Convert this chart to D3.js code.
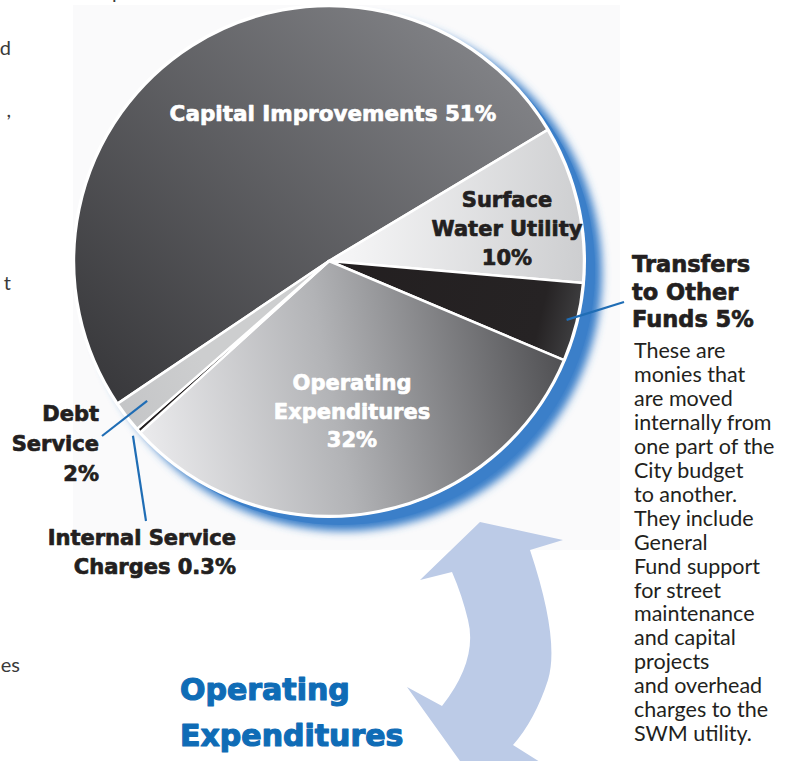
<!DOCTYPE html>
<html>
<head>
<meta charset="utf-8">
<script src="https://cdn.jsdelivr.net/npm/d3@7"></script>
<style>
  html, body { margin: 0; padding: 0; background: #ffffff; }
  svg { display: block; }
  .heavy { font-family: "DejaVu Sans", sans-serif; font-weight: bold; }
  .book { font-family: Lato, "Open Sans", sans-serif; }
</style>
</head>
<body>
<div id="chart"></div>
<script>
// slice data, clockwise from the top-left edge of Capital Improvements
var categories = ["Capital Improvements", "Surface Water Utility", "Transfers to Other Funds",
                  "Operating Expenditures", "Internal Service Charges", "Debt Service"];
var shares = [51, 10, 5, 32, 0.3, 2];
var shareLabels = ["51%", "10%", "5%", "32%", "0.3%", "2%"];
var labelLines = [
  ["Capital Improvements 51%"],
  ["Surface", "Water Utility", "10%"],
  ["Transfers", "to Other", "Funds 5%"],
  ["Operating", "Expenditures", "32%"],
  ["Internal Service", "Charges 0.3%"],
  ["Debt", "Service", "2%"]
];
var noteLines = ["These are", "monies that", "are moved", "internally from", "one part of the",
  "City budget", "to another.", "They include", "General", "Fund support", "for street",
  "maintenance", "and capital", "projects", "and overhead", "charges to the", "SWM utility."];
var edgeFragments = ["d", ",", "t", "es"];

const width = 794, height = 761;
const cx = 329, cy = 261, radius = 255;

var svg = d3.select("#chart").append("svg")
  .attr("width", width).attr("height", height)
  .attr("viewBox", "0 0 " + width + " " + height);

var defs = svg.append("defs");

// gradient stops per slice, in pie-local coordinates
var gradients = [
  {p: [150, -230, -210, 150], stops: [["0%", "#828387"], ["100%", "#38383b"]]},
  {p: [20, -40, 255, -20],   stops: [["0%", "#f5f5f6"], ["100%", "#cdced0"]]},
  {p: [0, 0, 250, 60],       stops: [["0%", "#231f20"], ["85%", "#262324"], ["100%", "#3f3f41"]]},
  {p: [-190, 160, 235, 80],  stops: [["0%", "#ebebed"], ["45%", "#b2b3b6"], ["100%", "#4e4e51"]]},
  {p: [0, 0, 1, 1],          stops: [["0%", "#231f20"], ["100%", "#231f20"]]},
  {p: [-120, 120, -230, 160], stops: [["0%", "#cdcecf"], ["100%", "#c2c3c5"]]}
];
gradients.forEach(function(g, i) {
  var lg = defs.append("linearGradient")
    .attr("id", "slice" + i)
    .attr("gradientUnits", "userSpaceOnUse")
    .attr("x1", g.p[0]).attr("y1", g.p[1]).attr("x2", g.p[2]).attr("y2", g.p[3]);
  g.stops.forEach(function(s) {
    lg.append("stop").attr("offset", s[0]).attr("stop-color", s[1]);
  });
});

var blur = defs.append("filter").attr("id", "glow")
  .attr("x", "-20%").attr("y", "-20%").attr("width", "140%").attr("height", "140%");
blur.append("feGaussianBlur").attr("stdDeviation", 4);

// faint panel behind the pie
svg.append("rect")
  .attr("x", 73).attr("y", 5).attr("width", 547).attr("height", 545)
  .attr("fill", "#fafafb");

// clipped text of the neighbouring column
var fragY = [55, 117, 290, 672];
svg.selectAll("text.frag")
  .data(edgeFragments)
  .enter().append("text")
    .attr("class", "frag book")
    .attr("x", function(d, i) { return i == 3 ? 20 : 11; })
    .attr("y", function(d, i) { return fragY[i]; })
    .attr("text-anchor", "end")
    .attr("font-size", 20)
    .attr("fill", "#3a3a3a")
    .text(function(d) { return d; });
svg.append("text").attr("class", "book")
  .attr("x", 112).attr("y", -1).attr("font-size", 20).attr("fill", "#3a3a3a").text("p");

var g = svg.append("g").attr("transform", "translate(" + cx + "," + cy + ")");

// blue shadow rim
g.append("circle")
  .attr("cx", 15).attr("cy", 12).attr("r", radius + 3)
  .attr("fill", "#3b7fc9")
  .attr("filter", "url(#glow)");
g.append("circle")
  .attr("cx", 11).attr("cy", 9).attr("r", radius)
  .attr("fill", "#3b7fc9");
g.append("circle")
  .attr("r", radius + 2)
  .attr("fill", "#ffffff");

var pie = d3.pie()
  .sort(null)
  .value(function(d) { return d; })
  .startAngle(-124 * Math.PI / 180)
  .endAngle(236 * Math.PI / 180);

var arcs = pie(shares);
var arc = d3.arc().innerRadius(0).outerRadius(radius);

g.selectAll("path.slice")
  .data(arcs)
  .enter().append("path")
    .attr("class", "slice")
    .attr("d", arc)
    .attr("fill", function(d, i) { return "url(#slice" + i + ")"; })
    .attr("stroke", "#ffffff")
    .attr("stroke-width", 2.5)
    .attr("stroke-linejoin", "round");

// point on a slice's mid angle at a fraction of the radius
function midPoint(d, f) {
  var a = (d.startAngle + d.endAngle) / 2;
  return [cx + Math.sin(a) * radius * f, cy - Math.cos(a) * radius * f];
}

// leader lines for the outside labels
var leaders = [
  {i: 2, f: 0.96, to: [624, 302]},
  {i: 5, f: 0.90, to: [102, 436]},
  {i: 4, f: 1.03, to: [146, 521]}
];
svg.selectAll("line.leader")
  .data(leaders)
  .enter().append("line")
    .attr("class", "leader")
    .attr("x1", function(d) { return midPoint(arcs[d.i], d.f)[0]; })
    .attr("y1", function(d) { return midPoint(arcs[d.i], d.f)[1]; })
    .attr("x2", function(d) { return d.to[0]; })
    .attr("y2", function(d) { return d.to[1]; })
    .attr("stroke", "#1f6db5")
    .attr("stroke-width", 2.2);

// slice labels: anchor, position, line height, colour, size
var labelPos = [
  {x: cx + 4,  y: 121, lh: 29, anchor: "middle", fill: "#ffffff", size: 21.5},
  {x: 507,     y: 207, lh: 29, anchor: "middle", fill: "#231f20", size: 21},
  {x: 632,     y: 272, lh: 27.5, anchor: "start", fill: "#231f20", size: 22.5},
  {x: 352,     y: 390, lh: 28.5, anchor: "middle", fill: "#ffffff", size: 21},
  {x: 236,     y: 545, lh: 29, anchor: "end", fill: "#231f20", size: 21},
  {x: 99,      y: 421, lh: 30, anchor: "end", fill: "#231f20", size: 21}
];
labelLines.forEach(function(lines, i) {
  var p = labelPos[i];
  var t = svg.append("text")
    .attr("class", "heavy")
    .attr("text-anchor", p.anchor)
    .attr("font-size", p.size)
    .attr("fill", p.fill)
    .attr("stroke", p.fill)
    .attr("stroke-width", 0.7)
    .attr("stroke-linejoin", "round");
  lines.forEach(function(s, k) {
    t.append("tspan").attr("x", p.x).attr("y", p.y + k * p.lh).text(s);
  });
});

// note under the transfers label
var note = svg.append("text")
  .attr("class", "book")
  .attr("font-size", 21.5)
  .attr("fill", "#231f20");
noteLines.forEach(function(s, k) {
  note.append("tspan").attr("x", 634).attr("y", 358 + k * 23.95).text(s);
});

// double arrow between the chart and the heading
var arrow = d3.path();
arrow.moveTo(480, 522);
arrow.lineTo(563, 540);
arrow.lineTo(530, 550);
arrow.quadraticCurveTo(560, 640, 548, 680);
arrow.quadraticCurveTo(535, 720, 513, 745);
arrow.lineTo(540, 762);
arrow.lineTo(470, 775);
arrow.lineTo(407, 687);
arrow.lineTo(442, 706);
arrow.quadraticCurveTo(478, 660, 468, 620);
arrow.quadraticCurveTo(462, 595, 452, 572);
arrow.lineTo(420, 580);
arrow.closePath();
svg.append("path")
  .attr("d", arrow.toString())
  .attr("fill", "#bccbe7");

// heading
var heading = svg.append("text")
  .attr("class", "heavy")
  .attr("font-size", 30)
  .attr("fill", "#0f6cb6")
  .attr("stroke", "#0f6cb6")
  .attr("stroke-width", 1.2)
  .attr("stroke-linejoin", "round");
["Operating", "Expenditures"].forEach(function(s, k) {
  heading.append("tspan").attr("x", 180).attr("y", 700 + k * 46).text(s);
});
</script>
</body>
</html>
